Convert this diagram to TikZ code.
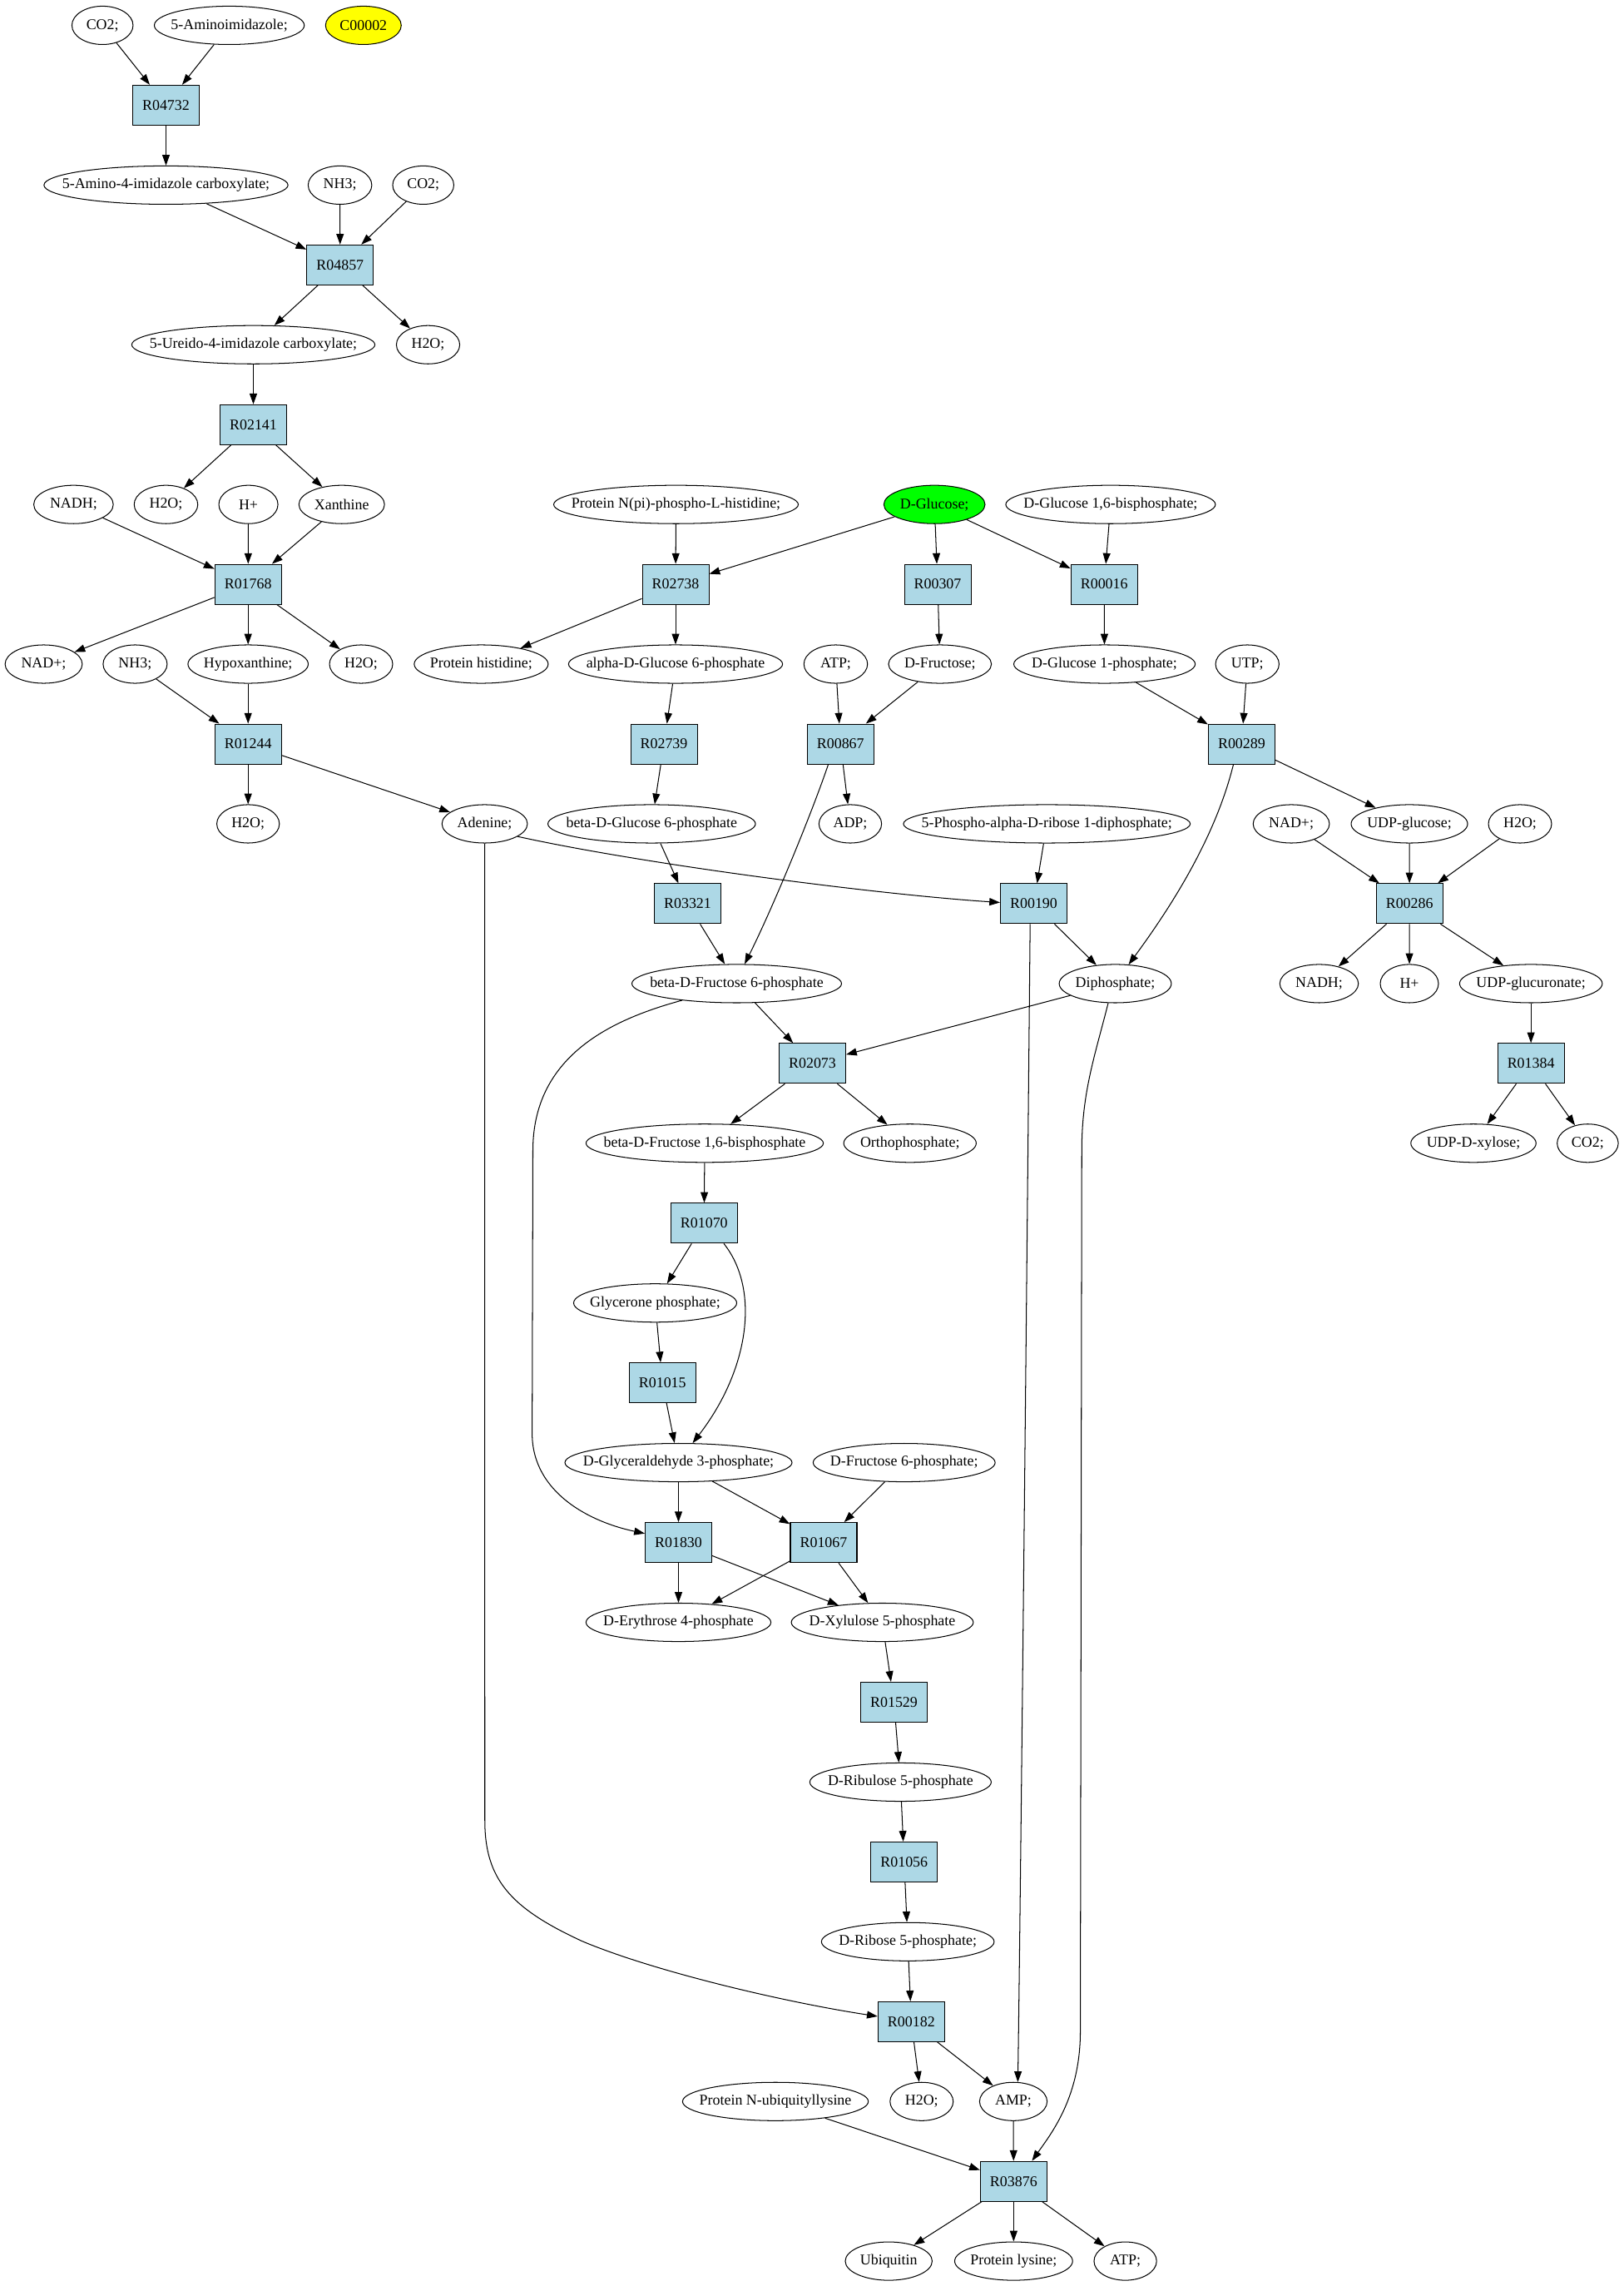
\documentclass[tikz,border=0pt]{standalone}
\usepackage{fontspec}
\setmainfont{Liberation Serif}
\usetikzlibrary{shapes.geometric,arrows.meta}
\definecolor{lbl}{HTML}{ADD8E6}
\definecolor{grn}{HTML}{00FF00}
\definecolor{ylw}{HTML}{FFFF00}
\newcommand{\zb}[1]{\makebox[0pt]{#1}}
\tikzset{
  met/.style={ellipse, draw, line width=0.8pt, minimum height=36pt, inner sep=0pt, font=\fontsize{14}{16}\selectfont},
  rxn/.style={rectangle, draw, fill=lbl, line width=0.8pt, minimum width=62.5pt, minimum height=37.5pt, inner sep=0pt, font=\fontsize{14}{16}\selectfont},
  ew/.style={minimum width=#1*1.3672pt},
  edg/.style={-{Triangle[length=10pt,width=7pt]}, line width=0.8pt}
}
\begin{document}
\begin{tikzpicture}[x=1.3672pt,y=-1.3672pt]
\useasboundingbox (0,0) rectangle (1114.86,1569.71);
% row 0
\node[met,ew=42] (co2a) at (70.4,17.4) {\zb{CO2;}};
\node[met,ew=103] (aimid) at (157.5,17.4) {\zb{5-Aminoimidazole;}};
\node[met,ew=52,fill=ylw] (c00002) at (249.6,17.4) {\zb{C00002}};
% row 1
\node[rxn] (R04732) at (114,72.2) {R04732};
% row 2
\node[met,ew=167.6] (aicarb) at (114,127.1) {\zb{5-Amino-4-imidazole carboxylate;}};
\node[met,ew=43.7] (nh3a) at (233.5,127.1) {\zb{NH3;}};
\node[met,ew=42] (co2b) at (290.7,127.1) {\zb{CO2;}};
% row 3
\node[rxn] (R04857) at (233.6,181.9) {R04857};
% row 4
\node[met,ew=167] (ureido) at (174,236.7) {\zb{5-Ureido-4-imidazole carboxylate;}};
\node[met,ew=43.5] (h2oa) at (294,236.7) {\zb{H2O;}};
% row 5
\node[rxn] (R02141) at (174,291.6) {R02141};
% row 6
\node[met,ew=54.6] (nadh) at (50.5,346.4) {\zb{NADH;}};
\node[met,ew=43.7] (h2ob) at (114,346.4) {\zb{H2O;}};
\node[met,ew=40.6] (hplus) at (170.6,346.4) {\zb{H+}};
\node[met,ew=58.8] (xanth) at (234.7,346.4) {\zb{Xanthine}};
\node[met,ew=168] (protNpi) at (464.3,346.4) {\zb{Protein N(pi)-phospho-L-histidine;}};
\node[met,ew=69.5,fill=grn] (dglc) at (641.8,346.4) {\zb{D-Glucose;}};
\node[met,ew=144] (dglc16) at (762.8,346.4) {\zb{D-Glucose 1,6-bisphosphate;}};
% row 7
\node[rxn] (R01768) at (170.4,401.2) {R01768};
\node[rxn] (R02738) at (464,401.2) {R02738};
\node[rxn] (R00307) at (644,401.2) {R00307};
\node[rxn] (R00016) at (758.4,401.2) {R00016};
% row 8
\node[met,ew=53] (nadp) at (30,456) {\zb{NAD+;}};
\node[met,ew=44] (nh3b) at (92.8,456) {\zb{NH3;}};
\node[met,ew=82.6] (hypox) at (170.4,456) {\zb{Hypoxanthine;}};
\node[met,ew=43.4] (h2oc) at (248,456) {\zb{H2O;}};
\node[met,ew=92] (prothis) at (330.5,456) {\zb{Protein histidine;}};
\node[met,ew=147] (aG6P) at (464,456) {\zb{alpha-D-Glucose 6-phosphate}};
\node[met,ew=43.7] (atp1) at (574,456) {\zb{ATP;}};
\node[met,ew=70.7] (dfru) at (645.6,456) {\zb{D-Fructose;}};
\node[met,ew=124.6] (dG1P) at (758.6,456) {\zb{D-Glucose 1-phosphate;}};
\node[met,ew=43.6] (utp) at (856.7,456) {\zb{UTP;}};
% row 9
\node[rxn] (R01244) at (170.4,510.9) {R01244};
\node[rxn] (R02739) at (456,510.9) {R02739};
\node[rxn] (R00867) at (577.3,510.9) {R00867};
\node[rxn] (R00289) at (852.8,510.9) {R00289};
% row 10
\node[met,ew=43] (h2od) at (170.4,565.7) {\zb{H2O;}};
\node[met,ew=58.7] (adenine) at (332.9,565.7) {\zb{Adenine;}};
\node[met,ew=142.6] (bG6P) at (447.6,565.7) {\zb{beta-D-Glucose 6-phosphate}};
\node[met,ew=43] (adp) at (584,565.7) {\zb{ADP;}};
\node[met,ew=197] (prpp) at (719,565.7) {\zb{5-Phospho-alpha-D-ribose 1-diphosphate;}};
\node[met,ew=52.4] (nadp2) at (886.9,565.7) {\zb{NAD+;}};
\node[met,ew=80] (udpglc) at (968,565.7) {\zb{UDP-glucose;}};
\node[met,ew=43.4] (h2oe) at (1044,565.7) {\zb{H2O;}};
% row 11
\node[rxn] (R03321) at (472.3,620.5) {R03321};
\node[rxn] (R00190) at (710,620.5) {R00190};
\node[rxn] (R00286) at (968.1,620.5) {R00286};
% row 12
\node[met,ew=144] (bF6P) at (506,675.4) {\zb{beta-D-Fructose 6-phosphate}};
\node[met,ew=77] (diphos) at (766,675.4) {\zb{Diphosphate;}};
\node[met,ew=54] (nadh2) at (906,675.4) {\zb{NADH;}};
\node[met,ew=40] (hplus2) at (968,675.4) {\zb{H+}};
\node[met,ew=98] (udpgln) at (1051.5,675.4) {\zb{UDP-glucuronate;}};
% row 13
\node[rxn] (R02073) at (558,730.2) {R02073};
\node[rxn] (R01384) at (1051.5,730.2) {R01384};
% row 14
\node[met,ew=163] (bF16P) at (484,785) {\zb{beta-D-Fructose 1,6-bisphosphate}};
\node[met,ew=91] (ortho) at (625,785) {\zb{Orthophosphate;}};
\node[met,ew=86] (udpxyl) at (1012,785) {\zb{UDP-D-xylose;}};
\node[met,ew=42] (co2c) at (1090.5,785) {\zb{CO2;}};
% rows 15-24
\node[rxn] (R01070) at (483.6,839.9) {R01070};
\node[met,ew=112] (glycerone) at (450,894.7) {\zb{Glycerone phosphate;}};
\node[rxn] (R01015) at (455,949.5) {R01015};
\node[met,ew=156] (g3p) at (466,1004.3) {\zb{D-Glyceraldehyde 3-phosphate;}};
\node[met,ew=125] (df6p) at (621,1004.3) {\zb{D-Fructose 6-phosphate;}};
\node[rxn] (R01830) at (466,1059.2) {R01830};
\node[rxn] (R01067) at (565.7,1059.2) {R01067};
\node[met,ew=127] (e4p) at (466,1114) {\zb{D-Erythrose 4-phosphate}};
\node[met,ew=125] (xu5p) at (606,1114) {\zb{D-Xylulose 5-phosphate}};
\node[rxn] (R01529) at (614,1168.8) {R01529};
\node[met,ew=124.6] (ru5p) at (618.5,1223.7) {\zb{D-Ribulose 5-phosphate}};
\node[rxn] (R01056) at (621,1278.5) {R01056};
\node[met,ew=118.6] (r5p) at (623.5,1333.3) {\zb{D-Ribose 5-phosphate;}};
% rows 25-28
\node[rxn] (R00182) at (625.9,1388.2) {R00182};
\node[met,ew=127.6] (pnub) at (532.6,1443) {\zb{Protein N-ubiquityllysine}};
\node[met,ew=43.4] (h2of) at (633,1443) {\zb{H2O;}};
\node[met,ew=46.4] (amp) at (696,1443) {\zb{AMP;}};
\node[rxn] (R03876) at (696.2,1497.8) {R03876};
\node[met,ew=59.7] (ubiq) at (610.4,1552.6) {\zb{Ubiquitin}};
\node[met,ew=81] (plys) at (696.2,1552.6) {\zb{Protein lysine;}};
\node[met,ew=43] (atp2) at (772.9,1552.6) {\zb{ATP;}};

% edges
\draw[edg] (co2a) -- (R04732);
\draw[edg] (aimid) -- (R04732);
\draw[edg] (R04732) -- (aicarb);
\draw[edg] (aicarb) -- (R04857);
\draw[edg] (nh3a) -- (R04857);
\draw[edg] (co2b) -- (R04857);
\draw[edg] (R04857) -- (ureido);
\draw[edg] (R04857) -- (h2oa);
\draw[edg] (ureido) -- (R02141);
\draw[edg] (R02141) -- (h2ob);
\draw[edg] (R02141) -- (xanth);
\draw[edg] (nadh) -- (R01768);
\draw[edg] (hplus) -- (R01768);
\draw[edg] (xanth) -- (R01768);
\draw[edg] (R01768) -- (nadp);
\draw[edg] (R01768) -- (hypox);
\draw[edg] (R01768) -- (h2oc);
\draw[edg] (nh3b) -- (R01244);
\draw[edg] (hypox) -- (R01244);
\draw[edg] (R01244) -- (h2od);
\draw[edg] (R01244) -- (adenine);
\draw[edg] (adenine.-21) .. controls (440,593) and (600,614) .. (R00190.178);
\draw[edg] (adenine.south) -- (333,1250) .. controls (333,1290) and (350,1310) .. (400,1333) .. controls (450,1354) and (540,1375) .. (R00182.171);
\draw[edg] (protNpi) -- (R02738);
\draw[edg] (dglc) -- (R02738);
\draw[edg] (dglc) -- (R00307);
\draw[edg] (dglc) -- (R00016);
\draw[edg] (dglc16) -- (R00016);
\draw[edg] (R02738.-157) -- (prothis.22);
\draw[edg] (R02738) -- (aG6P);
\draw[edg] (R00307) -- (dfru);
\draw[edg] (R00016) -- (dG1P);
\draw[edg] (aG6P) -- (R02739);
\draw[edg] (atp1) -- (R00867);
\draw[edg] (dfru) -- (R00867);
\draw[edg] (dG1P) -- (R00289);
\draw[edg] (utp) -- (R00289);
\draw[edg] (R02739) -- (bG6P);
\draw[edg] (R00867) -- (adp);
\draw[edg] (R00867.-121) .. controls (557,560) and (530,625) .. (bF6P.68);
\draw[edg] (R00289) -- (udpglc);
\draw[edg] (R00289.-112) .. controls (836,570) and (810,615) .. (diphos.55);
\draw[edg] (bG6P) -- (R03321);
\draw[edg] (prpp) -- (R00190);
\draw[edg] (nadp2) -- (R00286);
\draw[edg] (udpglc) -- (R00286);
\draw[edg] (h2oe) -- (R00286);
\draw[edg] (R03321) -- (bF6P);
\draw[edg] (R00190) -- (diphos);
\draw[edg] (R00190.-100) .. controls (705,900) and (701,1300) .. (amp.77);
\draw[edg] (R00286) -- (nadh2);
\draw[edg] (R00286) -- (hplus2);
\draw[edg] (R00286) -- (udpgln);
\draw[edg] (bF6P) -- (R02073);
\draw[edg] (diphos) -- (R02073);
\draw[edg] (bF6P.-163) .. controls (420,700) and (366,725) .. (366,790) -- (365.5,985) .. controls (366,1025) and (405,1045) .. (R01830.165);
\draw[edg] (diphos.-110) .. controls (752,725) and (743,750) .. (743,790) -- (742,1395) .. controls (742,1440) and (722,1465) .. (R03876.48);
\draw[edg] (udpgln) -- (R01384);
\draw[edg] (R01384) -- (udpxyl);
\draw[edg] (R01384) -- (co2c);
\draw[edg] (R02073) -- (bF16P);
\draw[edg] (R02073) -- (ortho);
\draw[edg] (bF16P) -- (R01070);
\draw[edg] (R01070) -- (glycerone);
\draw[edg] (R01070.-46) .. controls (522,885) and (515,940) .. (g3p.54);
\draw[edg] (glycerone) -- (R01015);
\draw[edg] (R01015) -- (g3p);
\draw[edg] (g3p) -- (R01830);
\draw[edg] (g3p) -- (R01067);
\draw[edg] (df6p) -- (R01067);
\draw[edg] (R01830) -- (e4p);
\draw[edg] (R01830) -- (xu5p);
\draw[edg] (R01067) -- (e4p);
\draw[edg] (R01067) -- (xu5p);
\draw[edg] (xu5p) -- (R01529);
\draw[edg] (R01529) -- (ru5p);
\draw[edg] (ru5p) -- (R01056);
\draw[edg] (R01056) -- (r5p);
\draw[edg] (r5p) -- (R00182);
\draw[edg] (R00182) -- (h2of);
\draw[edg] (R00182) -- (amp);
\draw[edg] (pnub) -- (R03876);
\draw[edg] (amp) -- (R03876);
\draw[edg] (R03876) -- (ubiq);
\draw[edg] (R03876) -- (plys);
\draw[edg] (R03876) -- (atp2);
\end{tikzpicture}
\end{document}
